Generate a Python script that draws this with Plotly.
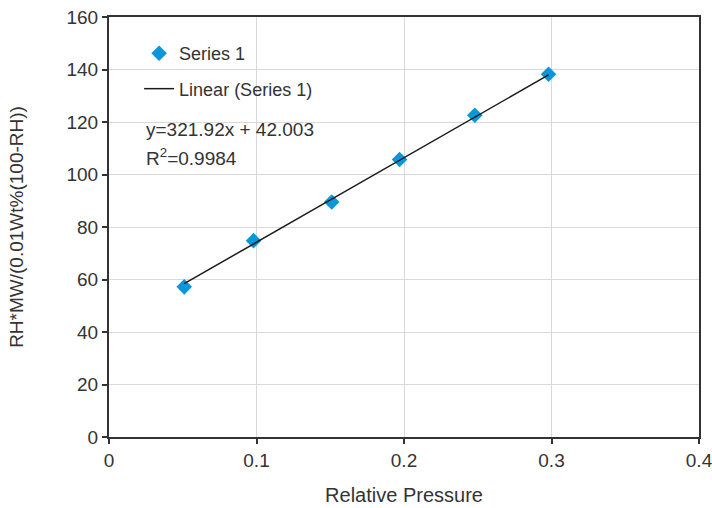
import plotly.graph_objects as go

# Data
rel_pressure = [0.051, 0.098, 0.151, 0.197, 0.248, 0.298]
y_values = [57.2, 74.8, 89.5, 105.7, 122.6, 138.2]
slope = 321.92
intercept = 42.003
r_squared = 0.9984
x_ticks = [0, 0.1, 0.2, 0.3, 0.4]
y_ticks = [0, 20, 40, 60, 80, 100, 120, 140, 160]

FONT = "Liberation Sans"
TXT = "#333333"

trend_x = [min(rel_pressure), max(rel_pressure)]
trend_y = [slope * v + intercept for v in trend_x]

fig = go.Figure()
fig.add_trace(go.Scatter(
    x=rel_pressure, y=y_values, mode="markers", name="Series 1",
    marker=dict(symbol="diamond", size=12, color="#0a96d8"),
    legendgroup="a",
))
fig.add_trace(go.Scatter(
    x=trend_x, y=trend_y, mode="lines", name="Linear (Series 1)",
    line=dict(color="#1a1a1a", width=1.5),
    legendgroup="b",
))

# white box behind legend and equation
fig.add_shape(type="rect", xref="paper", yref="paper",
              x0=0.0305, x1=0.39, y0=0.593, y1=0.964,
              fillcolor="white", line=dict(width=0), layer="between")

fig.add_annotation(xref="paper", yref="paper", x=0.06, y=0.731, xanchor="left", yanchor="middle",
                   text=f"y={slope}x + {intercept}", showarrow=False,
                   font=dict(family=FONT, size=19, color=TXT))
fig.add_annotation(xref="paper", yref="paper", x=0.06, y=0.666, xanchor="left", yanchor="middle",
                   text=f"R<sup>2</sup>={r_squared}", showarrow=False,
                   font=dict(family=FONT, size=19, color=TXT))

axis_common = dict(
    showline=True, linecolor="#333333", linewidth=2, mirror=True,
    showgrid=True, gridcolor="#d9d9d9", gridwidth=1,
    ticks="outside", ticklen=5, tickcolor="#333333", tickwidth=1.5,
    zeroline=False, automargin=False, ticklabeloverflow="allow",
    tickfont=dict(family=FONT, size=19, color=TXT),
)

fig.update_layout(
    width=712, height=508,
    margin=dict(l=109, r=13, t=17, b=71),
    paper_bgcolor="white", plot_bgcolor="white",
    font=dict(family=FONT, color=TXT),
    showlegend=True,
    legend=dict(x=0.051, y=0.957, xanchor="left", yanchor="top",
                bgcolor="rgba(0,0,0,0)", font=dict(family=FONT, size=18, color=TXT),
                traceorder="grouped", tracegroupgap=9, itemwidth=30),
    xaxis=dict(range=[0, 0.4], tickvals=x_ticks, ticktext=[str(v) for v in x_ticks],
               title=dict(text="Relative Pressure", font=dict(family=FONT, size=20, color=TXT), standoff=18),
               **axis_common),
    yaxis=dict(range=[0, 160], tickvals=y_ticks,
               title=dict(text="RH*MW/(0.01Wt%(100-RH))", font=dict(family=FONT, size=19, color=TXT), standoff=38),
               **axis_common),
)

fig.write_html("out.html")
